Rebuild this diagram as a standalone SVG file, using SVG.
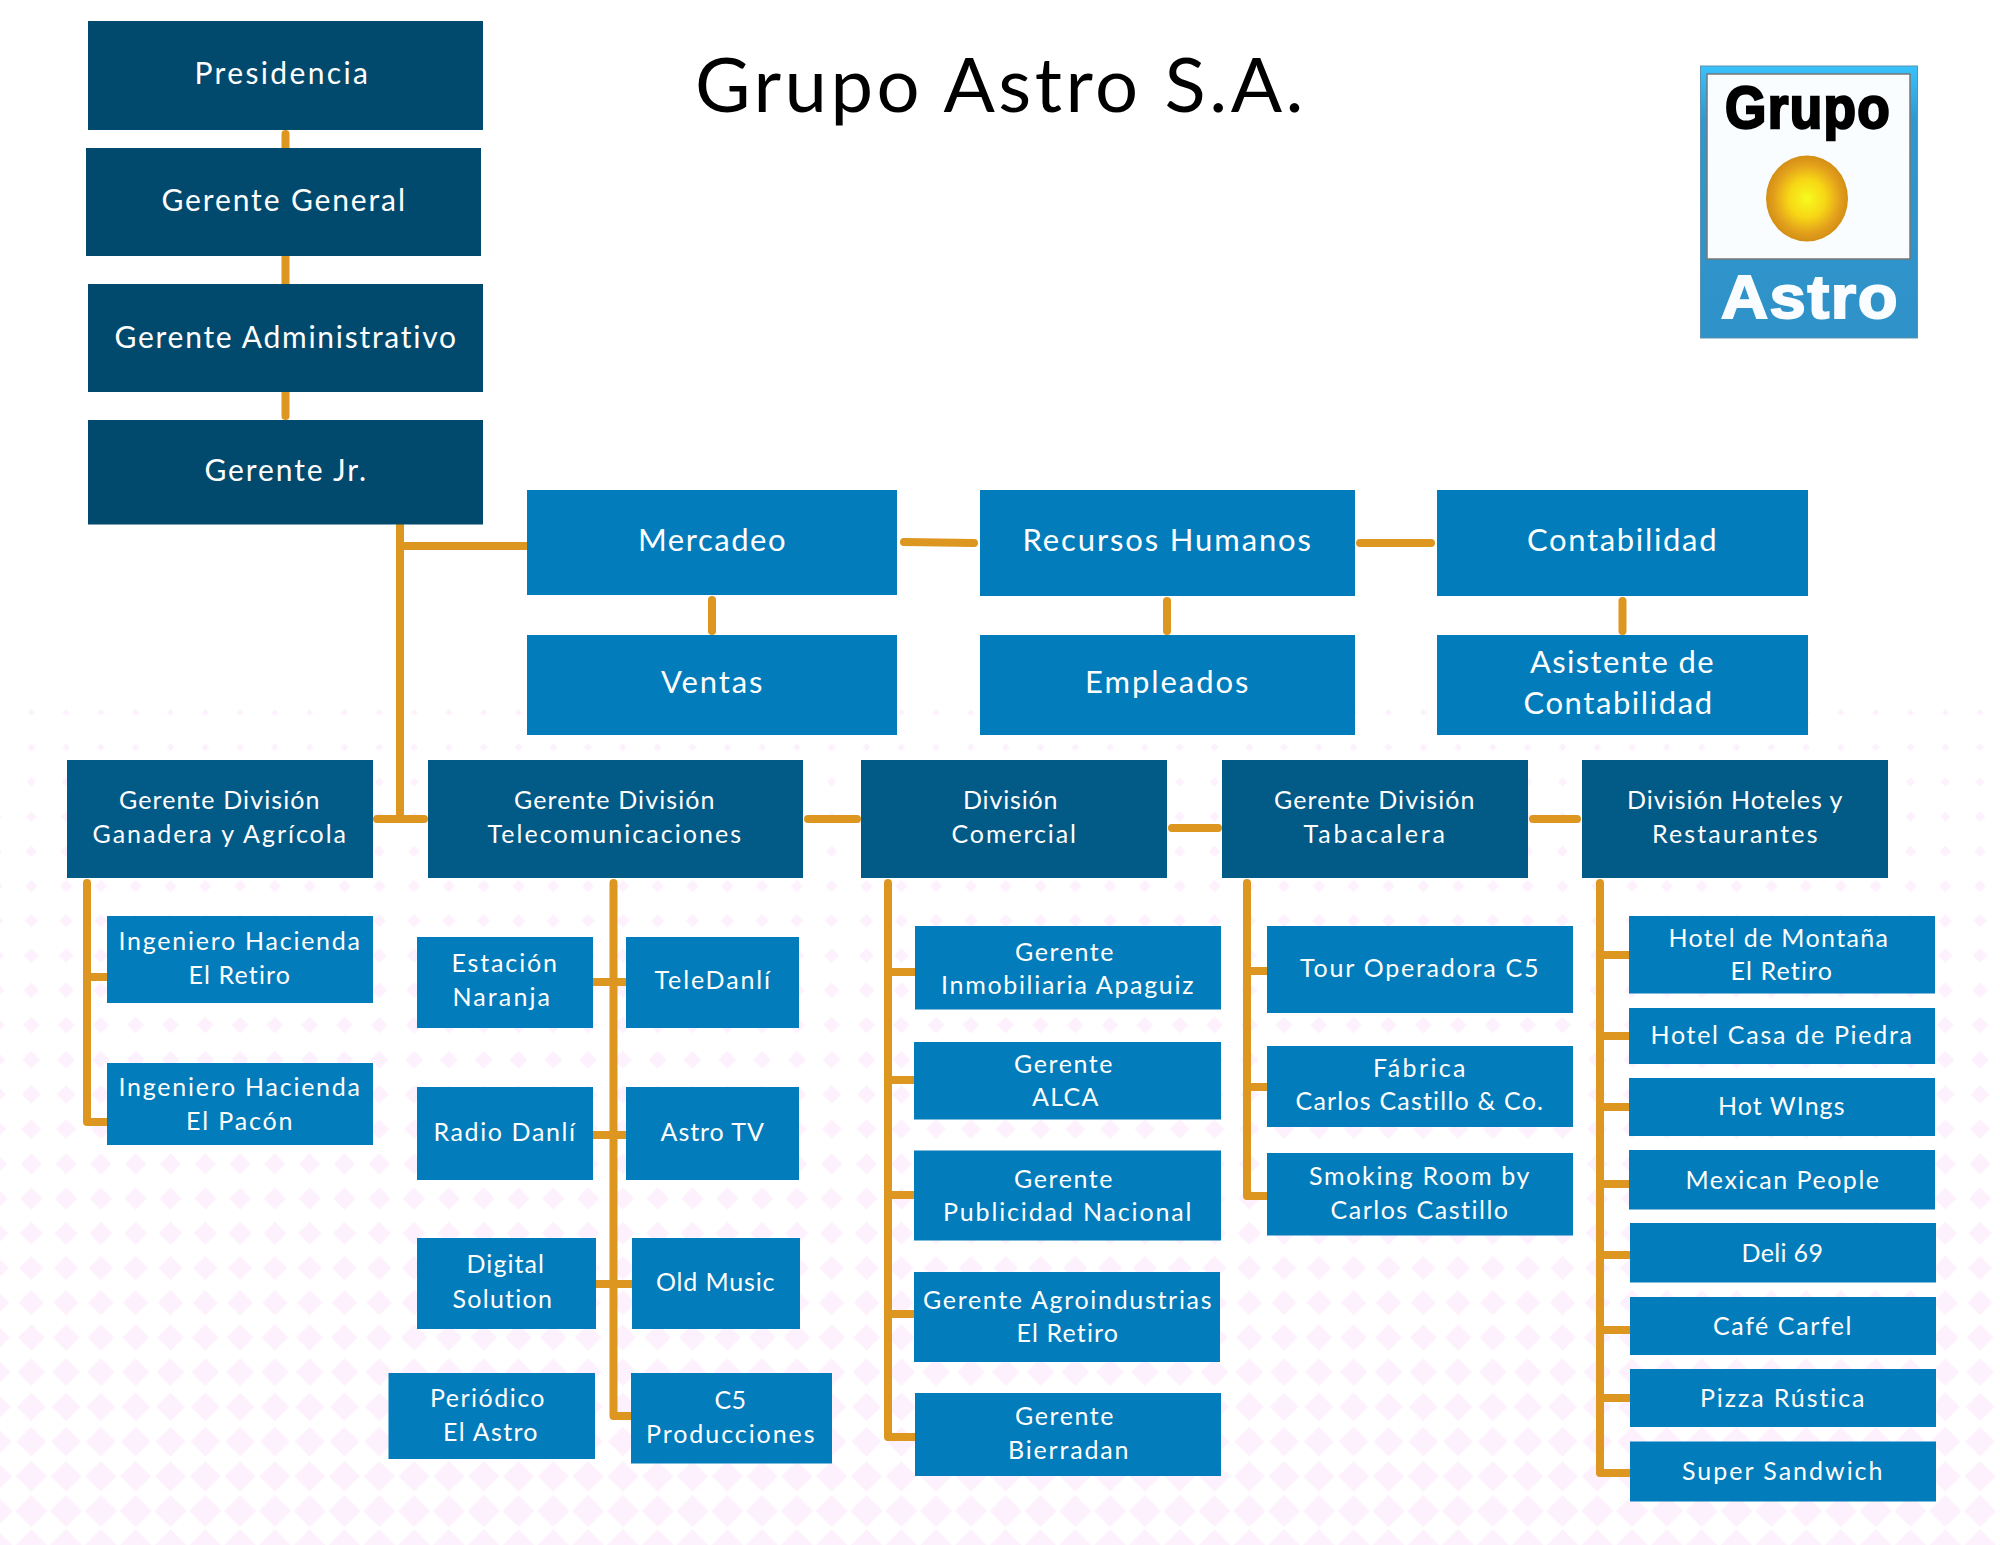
<svg xmlns="http://www.w3.org/2000/svg" width="2000" height="1545" viewBox="0 0 2000 1545">
<style>
text{font-family:"Lato","Liberation Sans",sans-serif;fill:#fff;text-anchor:middle;letter-spacing:1.5px}
.t0{fill:#024a6d}.t1{fill:#025a87}.t2{fill:#027cba}
.a text{font-size:30px;transform:translateY(2px)}.b text{font-size:25px}.c text{font-size:31px;transform:translateY(1px)}
.cn{fill:none;stroke:#dd9620;stroke-width:8;stroke-linecap:round;stroke-linejoin:round}
</style>
<defs>
<path id="m" d="M0-1L1 0 0 1-1 0z" fill="#fdf1fd"/>
<pattern id="r0" width="34.8" height="34.72" patternUnits="userSpaceOnUse" x="13.9" y="695.14"><use href="#m" transform="translate(17.4 17.36) scale(3.5)"/></pattern>
<pattern id="r1" width="34.8" height="34.72" patternUnits="userSpaceOnUse" x="13.9" y="729.86"><use href="#m" transform="translate(17.4 17.36) scale(4.05)"/></pattern>
<pattern id="r2" width="34.8" height="34.72" patternUnits="userSpaceOnUse" x="13.9" y="764.58"><use href="#m" transform="translate(17.4 17.36) scale(4.59)"/></pattern>
<pattern id="r3" width="34.8" height="34.72" patternUnits="userSpaceOnUse" x="13.9" y="799.3"><use href="#m" transform="translate(17.4 17.36) scale(5.14)"/></pattern>
<pattern id="r4" width="34.8" height="34.72" patternUnits="userSpaceOnUse" x="13.9" y="834.02"><use href="#m" transform="translate(17.4 17.36) scale(5.68)"/></pattern>
<pattern id="r5" width="34.8" height="34.72" patternUnits="userSpaceOnUse" x="13.9" y="868.74"><use href="#m" transform="translate(17.4 17.36) scale(6.23)"/></pattern>
<pattern id="r6" width="34.8" height="34.72" patternUnits="userSpaceOnUse" x="13.9" y="903.46"><use href="#m" transform="translate(17.4 17.36) scale(6.77)"/></pattern>
<pattern id="r7" width="34.8" height="34.72" patternUnits="userSpaceOnUse" x="13.9" y="938.18"><use href="#m" transform="translate(17.4 17.36) scale(7.32)"/></pattern>
<pattern id="r8" width="34.8" height="34.72" patternUnits="userSpaceOnUse" x="13.9" y="972.9"><use href="#m" transform="translate(17.4 17.36) scale(7.86)"/></pattern>
<pattern id="r9" width="34.8" height="34.72" patternUnits="userSpaceOnUse" x="13.9" y="1007.62"><use href="#m" transform="translate(17.4 17.36) scale(8.41)"/></pattern>
<pattern id="r10" width="34.8" height="34.72" patternUnits="userSpaceOnUse" x="13.9" y="1042.34"><use href="#m" transform="translate(17.4 17.36) scale(8.95)"/></pattern>
<pattern id="r11" width="34.8" height="34.72" patternUnits="userSpaceOnUse" x="13.9" y="1077.06"><use href="#m" transform="translate(17.4 17.36) scale(9.5)"/></pattern>
<pattern id="r12" width="34.8" height="34.72" patternUnits="userSpaceOnUse" x="13.9" y="1111.78"><use href="#m" transform="translate(17.4 17.36) scale(10.04)"/></pattern>
<pattern id="r13" width="34.8" height="34.72" patternUnits="userSpaceOnUse" x="13.9" y="1146.5"><use href="#m" transform="translate(17.4 17.36) scale(10.59)"/></pattern>
<pattern id="r14" width="34.8" height="34.72" patternUnits="userSpaceOnUse" x="13.9" y="1181.22"><use href="#m" transform="translate(17.4 17.36) scale(11.13)"/></pattern>
<pattern id="r15" width="34.8" height="34.72" patternUnits="userSpaceOnUse" x="13.9" y="1215.94"><use href="#m" transform="translate(17.4 17.36) scale(11.68)"/></pattern>
<pattern id="r16" width="34.8" height="34.72" patternUnits="userSpaceOnUse" x="13.9" y="1250.66"><use href="#m" transform="translate(17.4 17.36) scale(12.22)"/></pattern>
<pattern id="r17" width="34.8" height="34.72" patternUnits="userSpaceOnUse" x="13.9" y="1285.38"><use href="#m" transform="translate(17.4 17.36) scale(12.77)"/></pattern>
<pattern id="r18" width="34.8" height="34.72" patternUnits="userSpaceOnUse" x="13.9" y="1320.1"><use href="#m" transform="translate(17.4 17.36) scale(13.31)"/></pattern>
<pattern id="r19" width="34.8" height="34.72" patternUnits="userSpaceOnUse" x="13.9" y="1354.82"><use href="#m" transform="translate(17.4 17.36) scale(13.86)"/></pattern>
<pattern id="r20" width="34.8" height="34.72" patternUnits="userSpaceOnUse" x="13.9" y="1389.54"><use href="#m" transform="translate(17.4 17.36) scale(14.4)"/></pattern>
<pattern id="r21" width="34.8" height="34.72" patternUnits="userSpaceOnUse" x="13.9" y="1424.26"><use href="#m" transform="translate(17.4 17.36) scale(14.95)"/></pattern>
<pattern id="r22" width="34.8" height="34.72" patternUnits="userSpaceOnUse" x="13.9" y="1458.98"><use href="#m" transform="translate(17.4 17.36) scale(15.49)"/></pattern>
<pattern id="r23" width="34.8" height="34.72" patternUnits="userSpaceOnUse" x="13.9" y="1493.7"><use href="#m" transform="translate(17.4 17.36) scale(16.04)"/></pattern>
<pattern id="r24" width="34.8" height="34.72" patternUnits="userSpaceOnUse" x="13.9" y="1528.42"><use href="#m" transform="translate(17.4 17.36) scale(16.58)"/></pattern>
<linearGradient id="lg" x1="0" y1="0" x2="0" y2="1"><stop offset="0" stop-color="#38c2fb"/><stop offset=".2" stop-color="#2f98d0"/><stop offset="1" stop-color="#2f92c8"/></linearGradient>
<radialGradient id="sun"><stop offset="0" stop-color="#f6fb1e"/><stop offset=".45" stop-color="#f7d615"/><stop offset=".8" stop-color="#e3a01c"/><stop offset="1" stop-color="#d28f14"/></radialGradient>
</defs>
<rect width="2000" height="1545" fill="#fff"/>
<g id="background">
<rect y="695.14" width="2000" height="34.72" fill="url(#r0)"/>
<rect y="729.86" width="2000" height="34.72" fill="url(#r1)"/>
<rect y="764.58" width="2000" height="34.72" fill="url(#r2)"/>
<rect y="799.3" width="2000" height="34.72" fill="url(#r3)"/>
<rect y="834.02" width="2000" height="34.72" fill="url(#r4)"/>
<rect y="868.74" width="2000" height="34.72" fill="url(#r5)"/>
<rect y="903.46" width="2000" height="34.72" fill="url(#r6)"/>
<rect y="938.18" width="2000" height="34.72" fill="url(#r7)"/>
<rect y="972.9" width="2000" height="34.72" fill="url(#r8)"/>
<rect y="1007.62" width="2000" height="34.72" fill="url(#r9)"/>
<rect y="1042.34" width="2000" height="34.72" fill="url(#r10)"/>
<rect y="1077.06" width="2000" height="34.72" fill="url(#r11)"/>
<rect y="1111.78" width="2000" height="34.72" fill="url(#r12)"/>
<rect y="1146.5" width="2000" height="34.72" fill="url(#r13)"/>
<rect y="1181.22" width="2000" height="34.72" fill="url(#r14)"/>
<rect y="1215.94" width="2000" height="34.72" fill="url(#r15)"/>
<rect y="1250.66" width="2000" height="34.72" fill="url(#r16)"/>
<rect y="1285.38" width="2000" height="34.72" fill="url(#r17)"/>
<rect y="1320.1" width="2000" height="34.72" fill="url(#r18)"/>
<rect y="1354.82" width="2000" height="34.72" fill="url(#r19)"/>
<rect y="1389.54" width="2000" height="34.72" fill="url(#r20)"/>
<rect y="1424.26" width="2000" height="34.72" fill="url(#r21)"/>
<rect y="1458.98" width="2000" height="34.72" fill="url(#r22)"/>
<rect y="1493.7" width="2000" height="34.72" fill="url(#r23)"/>
<rect y="1528.42" width="2000" height="16.58" fill="url(#r24)"/>
</g>
<text x="1000" y="112" textLength="610" style="font-size:76px;fill:#000">Grupo Astro S.A.</text>
<g id="logo">
<rect x="1700.500" y="66" width="217" height="272" fill="url(#lg)" stroke="#5d91ad"/>
<rect x="1707" y="74" width="203" height="185" fill="#fafdff" stroke="#777" stroke-width="1.500"/>
<ellipse cx="1807" cy="198.500" rx="41" ry="43" fill="url(#sun)"/>
<text x="1808" y="128" textLength="166" lengthAdjust="spacingAndGlyphs" style="font-size:60px;font-weight:700;fill:#000;font-family:'Liberation Sans',sans-serif;stroke:#000;stroke-width:2.500">Grupo</text>
<text x="1810" y="318" textLength="178" lengthAdjust="spacingAndGlyphs" style="font-size:62px;font-weight:700;fill:#fafdff;font-family:'Liberation Sans',sans-serif;stroke:#fafdff;stroke-width:2">Astro</text>
</g>
<g id="connectors" class="cn">
<path d="M285.500 134V148M285.500 256V284M285.500 392V416"/>
<path d="M400 524V819M400 546H527M377 819H424"/>
<path d="M904 542L974 543M1360 543H1431M712 600V631M1167 601V631M1622.500 601V631"/>
<path d="M808 819H857M1172 828H1218M1533 819H1577"/>
<path d="M87 883V1122H107M87 977H107"/>
<path d="M613.500 883V1415M593 982H626M593 1135H626M596 1284H632M613.500 1416H631"/>
<path d="M888 883V1437H915M888 972H915M888 1080H915M888 1195H915M888 1314H915"/>
<path d="M1247 883V1196H1267M1247 971H1267M1247 1087H1267"/>
<path d="M1600 883V1473H1629M1600 955H1629M1600 1036H1629M1600 1107H1629M1600 1184H1629M1600 1255H1629M1600 1330H1629M1600 1398H1629"/>
</g>
<g class="a">
<g id="presidencia"><rect class="t0" x="88" y="21" width="395" height="109"/><text x="282" y="82" textLength="175">Presidencia</text></g>
<g id="general"><rect class="t0" x="86" y="148" width="395" height="108"/><text x="284" y="209" textLength="245">Gerente General</text></g>
<g id="administrativo"><rect class="t0" x="88" y="284" width="395" height="108"/><text x="286" y="346" textLength="343">Gerente Administrativo</text></g>
<g id="jr"><rect class="t0" x="88" y="420" width="395" height="104.500"/><text x="286" y="479" textLength="163">Gerente Jr.</text></g>
</g>
<g class="c">
<g id="mercadeo"><rect class="t2" x="527" y="490" width="370" height="105"/><text x="712.500" y="550" textLength="149">Mercadeo</text></g>
<g id="rrhh"><rect class="t2" x="980" y="490" width="375" height="106"/><text x="1167.500" y="550" textLength="290">Recursos Humanos</text></g>
<g id="contabilidad"><rect class="t2" x="1437" y="490" width="371" height="106"/><text x="1622.500" y="550" textLength="191">Contabilidad</text></g>
<g id="ventas"><rect class="t2" x="527" y="635" width="370" height="100"/><text x="712.500" y="692" textLength="103">Ventas</text></g>
<g id="empleados"><rect class="t2" x="980" y="635" width="375" height="100"/><text x="1167.500" y="692" textLength="165">Empleados</text></g>
<g id="asistente"><rect class="t2" x="1437" y="635" width="371" height="100"/><text x="1622.500" y="672" textLength="185">Asistente de</text><text x="1618.500" y="713" textLength="190">Contabilidad</text></g>
</g>
<g class="b">
<g id="div1"><rect class="t1" x="67" y="760" width="306" height="118"/><text x="220" y="809" textLength="202">Gerente División</text><text x="220" y="843" textLength="255">Ganadera y Agrícola</text></g>
<g id="div2"><rect class="t1" x="428" y="760" width="375" height="118"/><text x="615" y="809" textLength="202">Gerente División</text><text x="615" y="843" textLength="255">Telecomunicaciones</text></g>
<g id="div3"><rect class="t1" x="861" y="760" width="306" height="118"/><text x="1011" y="809" textLength="96">División</text><text x="1014.500" y="843" textLength="126">Comercial</text></g>
<g id="div4"><rect class="t1" x="1222" y="760" width="306" height="118"/><text x="1375" y="809" textLength="202">Gerente División</text><text x="1375" y="843" textLength="143">Tabacalera</text></g>
<g id="div5"><rect class="t1" x="1582" y="760" width="306" height="118"/><text x="1735.500" y="809" textLength="217">División Hoteles y</text><text x="1735.500" y="843" textLength="167">Restaurantes</text></g>
<g id="ing1"><rect class="t2" x="107" y="916" width="266" height="87"/><text x="240" y="950" textLength="243">Ingeniero Hacienda</text><text x="240" y="984" textLength="103">El Retiro</text></g>
<g id="ing2"><rect class="t2" x="107" y="1063" width="266" height="82"/><text x="240" y="1096" textLength="243">Ingeniero Hacienda</text><text x="240" y="1130" textLength="108">El Pacón</text></g>
<g id="estacion"><rect class="t2" x="417" y="937" width="176" height="91"/><text x="505" y="972" textLength="107">Estación</text><text x="502" y="1006" textLength="99">Naranja</text></g>
<g id="teledanli"><rect class="t2" x="626" y="937" width="173" height="91"/><text x="713" y="989" textLength="117">TeleDanlí</text></g>
<g id="radio"><rect class="t2" x="417" y="1087" width="176" height="93"/><text x="505" y="1141" textLength="143">Radio Danlí</text></g>
<g id="astrotv"><rect class="t2" x="626" y="1087" width="173" height="93"/><text x="713" y="1141" textLength="105">Astro TV</text></g>
<g id="digital"><rect class="t2" x="417" y="1238" width="179" height="91"/><text x="506" y="1273" textLength="79">Digital</text><text x="503" y="1308" textLength="101">Solution</text></g>
<g id="oldmusic"><rect class="t2" x="632" y="1238" width="168" height="91"/><text x="716" y="1291" textLength="120">Old Music</text></g>
<g id="periodico"><rect class="t2" x="388.500" y="1373" width="206.500" height="86"/><text x="488" y="1407" textLength="116">Periódico</text><text x="491" y="1441" textLength="96">El Astro</text></g>
<g id="c5"><rect class="t2" x="631" y="1373" width="201" height="90.500"/><text x="731" y="1409" textLength="33">C5</text><text x="731" y="1443" textLength="170">Producciones</text></g>
<g id="inmobiliaria"><rect class="t2" x="915" y="926" width="306" height="83.500"/><text x="1065" y="961" textLength="100">Gerente</text><text x="1068" y="994" textLength="254">Inmobiliaria Apaguiz</text></g>
<g id="alca"><rect class="t2" x="914" y="1042" width="307" height="77.500"/><text x="1064" y="1073" textLength="100">Gerente</text><text x="1066" y="1106" textLength="68">ALCA</text></g>
<g id="publicidad"><rect class="t2" x="914" y="1150.500" width="307" height="90"/><text x="1064" y="1188" textLength="100">Gerente</text><text x="1068" y="1221" textLength="250">Publicidad Nacional</text></g>
<g id="agro"><rect class="t2" x="914" y="1272" width="306" height="90"/><text x="1068" y="1309" textLength="290">Gerente Agroindustrias</text><text x="1068" y="1342" textLength="103">El Retiro</text></g>
<g id="bierradan"><rect class="t2" x="915" y="1393" width="306" height="83"/><text x="1065" y="1425" textLength="100">Gerente</text><text x="1069" y="1459" textLength="122">Bierradan</text></g>
<g id="tour"><rect class="t2" x="1267" y="926" width="306" height="87"/><text x="1420" y="977" textLength="240">Tour Operadora C5</text></g>
<g id="fabrica"><rect class="t2" x="1267" y="1046" width="306" height="81"/><text x="1420" y="1077" textLength="94">Fábrica</text><text x="1420" y="1110" textLength="249">Carlos Castillo &amp; Co.</text></g>
<g id="smoking"><rect class="t2" x="1267" y="1153" width="306" height="82.500"/><text x="1420" y="1185" textLength="222">Smoking Room by</text><text x="1420" y="1219" textLength="179">Carlos Castillo</text></g>
<g id="montana"><rect class="t2" x="1629" y="916" width="306" height="77.500"/><text x="1779" y="947" textLength="221">Hotel de Montaña</text><text x="1782" y="980" textLength="103">El Retiro</text></g>
<g id="piedra"><rect class="t2" x="1629" y="1008" width="306" height="56"/><text x="1782" y="1044" textLength="263">Hotel Casa de Piedra</text></g>
<g id="wings"><rect class="t2" x="1629" y="1078" width="306" height="58"/><text x="1782" y="1115" textLength="128">Hot WIngs</text></g>
<g id="mexican"><rect class="t2" x="1629" y="1150" width="306" height="59.500"/><text x="1783" y="1189" textLength="195">Mexican People</text></g>
<g id="deli"><rect class="t2" x="1630" y="1223" width="306" height="59.500"/><text x="1783" y="1262" textLength="83">Deli 69</text></g>
<g id="cafe"><rect class="t2" x="1630" y="1297" width="306" height="58"/><text x="1783" y="1335" textLength="140">Café Carfel</text></g>
<g id="pizza"><rect class="t2" x="1630" y="1369" width="306" height="58"/><text x="1783" y="1407" textLength="166">Pizza Rústica</text></g>
<g id="sandwich"><rect class="t2" x="1630" y="1441.500" width="306" height="60"/><text x="1783" y="1480" textLength="202">Super Sandwich</text></g>
</g>
</svg>
